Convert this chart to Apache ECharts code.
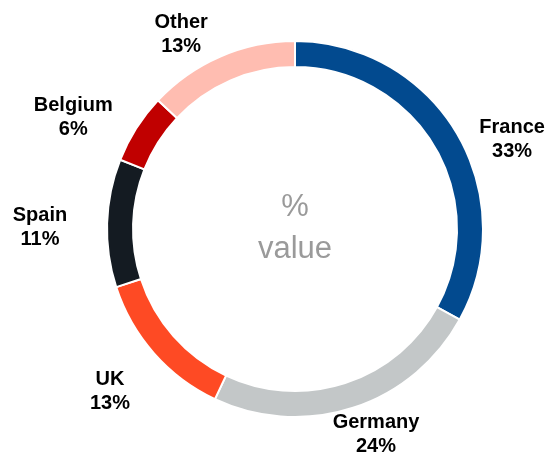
<!DOCTYPE html>
<html>
<head>
<meta charset="utf-8">
<script src="https://cdn.jsdelivr.net/npm/echarts@6/dist/echarts.min.js"></script>
<style>
  html, body { margin: 0; padding: 0; background: #fff; }
  #chart { width: 549px; height: 452px; }
</style>
</head>
<body>
<div id="chart"></div>
<script>
// share by country, clockwise from 12 o'clock
const countries = ['France', 'Germany', 'UK', 'Spain', 'Belgium', 'Other'];
const shares = [33, 24, 13, 11, 6, 13];
const colors = ['#024a8f', '#c3c7c8', '#fe4a24', '#141b22', '#c00000', '#ffbdb1'];

// label placement around the ring (degrees clockwise from top, px from centre)
const labelAngles = [67.5, 158.5, 228.8, 270.3, 296.6, 329.6];
const labelRadii = [235, 221, 246, 255, 248, 225];

const cx = 295, cy = 229;

const chart = echarts.init(document.getElementById('chart'));

const option = {
  animation: false,
  color: colors,
  graphic: [{
    type: 'text',
    x: cx,
    y: 186,
    style: {
      text: '%\nvalue',
      fill: '#9a9a9a',
      font: '31px "Liberation Sans", Arial, sans-serif',
      textAlign: 'center',
      lineHeight: 42
    }
  }],
  series: [{
    type: 'pie',
    center: [cx, cy],
    radius: [162, 188],
    startAngle: 90,
    clockwise: true,
    avoidLabelOverlap: false,
    itemStyle: {
      borderColor: '#fff',
      borderWidth: 2
    },
    label: {
      show: true,
      position: 'outside',
      formatter: '{b}\n{c}%',
      color: '#000',
      fontFamily: '"Liberation Sans", Arial, sans-serif',
      fontWeight: 'bold',
      fontSize: 20,
      lineHeight: 24
    },
    labelLine: { show: false },
    labelLayout: function (params) {
      const a = labelAngles[params.dataIndex] * Math.PI / 180;
      const r = labelRadii[params.dataIndex];
      return {
        x: cx + r * Math.sin(a),
        y: cy - r * Math.cos(a),
        align: 'center',
        verticalAlign: 'middle'
      };
    },
    data: countries.map((name, i) => ({ name: name, value: shares[i] }))
  }]
};

chart.setOption(option);
</script>
</body>
</html>
